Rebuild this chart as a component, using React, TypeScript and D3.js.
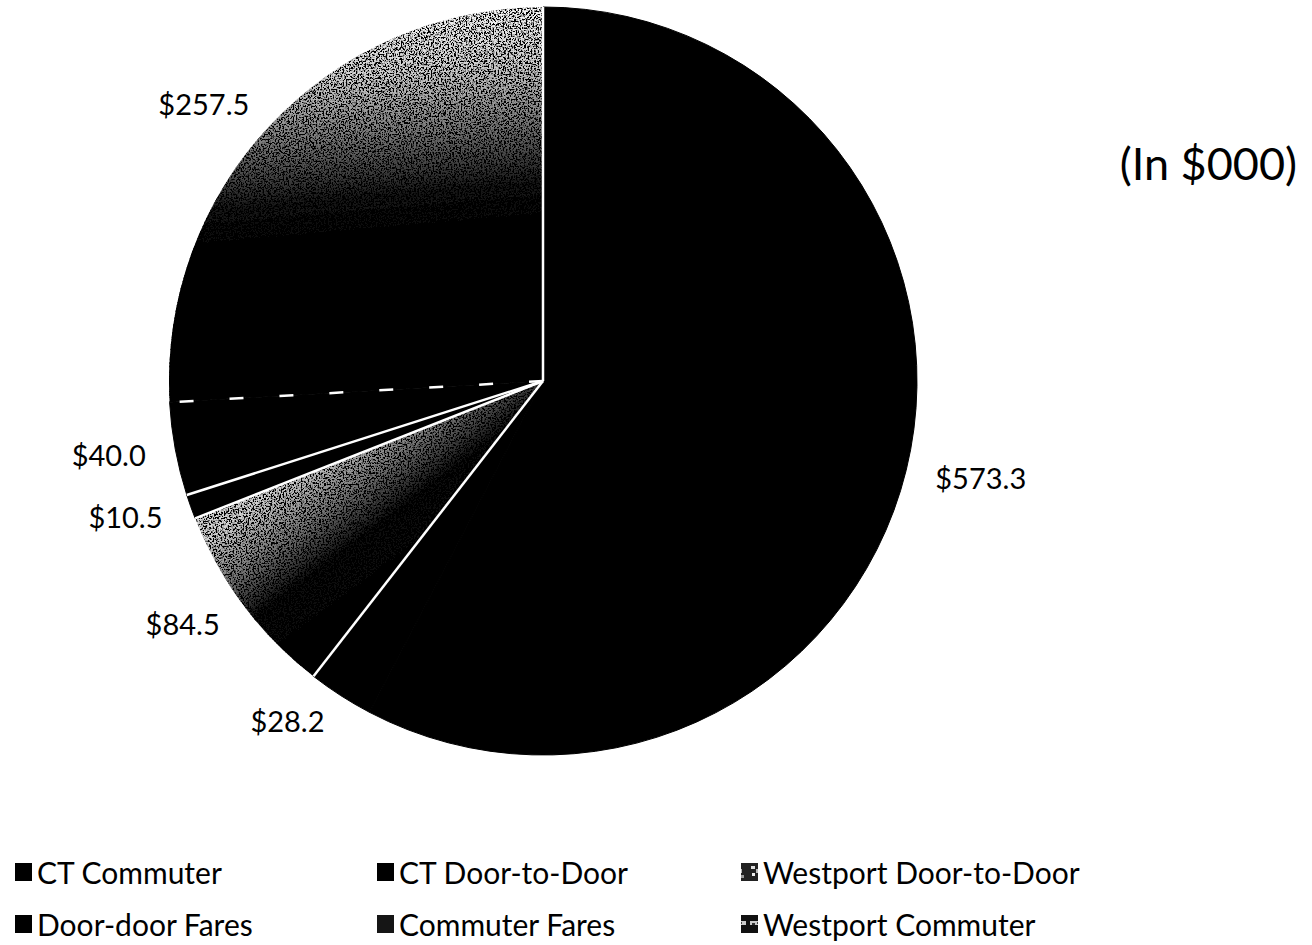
import React from "react";
import * as d3 from "d3";

const categories = [
  "CT Commuter",
  "CT Door-to-Door",
  "Westport Door-to-Door",
  "Door-door Fares",
  "Commuter Fares",
  "Westport Commuter",
];
const values = [573.3, 28.2, 84.5, 10.5, 40.0, 257.5];
const labelTexts = ["$573.3", "$28.2", "$84.5", "$10.5", "$40.0", "$257.5"];
const unitTitle = "(In $000)";
// legend grid: 3 columns x 2 rows
const legendCols = [0, 1, 2, 0, 1, 2];
const legendRows = [0, 0, 0, 1, 1, 1];

const W = 1312;
const H = 945;
const cx = 543;
const cy = 381;
const r = 374;
const FONT = "Lato, 'Open Sans', sans-serif";

export default function App() {
  const pie = d3.pie<number>().sort(null).value((d) => d);
  const arcs = pie(values);
  const arc = d3.arc<d3.PieArcDatum<number>>().innerRadius(0).outerRadius(r);
  const labelR = r + 30;

  const fills = ["#000", "#000", "url(#gradWDD)", "#000", "#000", "url(#gradWC)"];
  const filters = [null, null, "url(#speckle)", null, null, "url(#speckle)"];

  const legendX = d3.scaleOrdinal<number, number>().domain([0, 1, 2]).range([15, 377, 741]);
  const legendY = d3.scaleOrdinal<number, number>().domain([0, 1]).range([872, 924]);

  // separators after slices 1..5 (none between CT Commuter and CT Door-to-Door)
  const sepAngles = arcs.map((a) => a.endAngle).filter((_, i) => i >= 1);

  // local (centred) point
  const lp = (ang: number, rad: number) => [rad * Math.sin(ang), -rad * Math.cos(ang)];
  const pt = (ang: number, rad: number) => {
    const [x, y] = lp(ang, rad);
    return [cx + x, cy + y];
  };

  const wddA = lp(arcs[2].endAngle, r * 0.75);
  const wddB = lp(arcs[2].startAngle, r * 0.75);

  return (
    <svg
      width={W}
      height={H}
      style={{ position: "absolute", left: 0, top: 0, background: "#fff" }}
      fontFamily={FONT}
    >
      <defs>
        <linearGradient id="gradWC" gradientUnits="userSpaceOnUse" x1={-r * 0.05} y1={-r} x2={0} y2={-r * 0.42}>
          <stop offset="0" stopColor="#f5f5f5" />
          <stop offset="0.25" stopColor="#d0d0d0" />
          <stop offset="0.55" stopColor="#707070" />
          <stop offset="0.8" stopColor="#1a1a1a" />
          <stop offset="1" stopColor="#000" />
        </linearGradient>
        <linearGradient id="gradWDD" gradientUnits="userSpaceOnUse" x1={wddA[0]} y1={wddA[1]} x2={wddB[0]} y2={wddB[1]}>
          <stop offset="0" stopColor="#d0d0d0" />
          <stop offset="0.3" stopColor="#7a7a7a" />
          <stop offset="0.6" stopColor="#111" />
          <stop offset="1" stopColor="#000" />
        </linearGradient>
        <filter id="speckle" x="0" y="0" width="1" height="1">
          <feTurbulence type="fractalNoise" baseFrequency="0.6" numOctaves="2" seed="4" result="noise" />
          <feColorMatrix
            in="noise"
            type="matrix"
            values="0 0 0 0 0  0 0 0 0 0  0 0 0 0 0  7 0 0 0 -3.1"
            result="dots"
          />
          <feComposite in="dots" in2="SourceGraphic" operator="in" result="clipped" />
          <feMerge>
            <feMergeNode in="SourceGraphic" />
            <feMergeNode in="clipped" />
          </feMerge>
        </filter>
        <pattern id="swWDD" width="17" height="18" patternUnits="userSpaceOnUse">
          <rect width="17" height="18" fill="#222" />
          <rect x="3" y="2" width="4" height="3" fill="#ddd" />
          <rect x="8" y="5" width="3" height="4" fill="#bbb" />
          <rect x="4" y="9" width="3" height="3" fill="#eee" />
          <rect x="10" y="11" width="3" height="3" fill="#999" />
        </pattern>
        <pattern id="swWC" width="17" height="18" patternUnits="userSpaceOnUse">
          <rect width="17" height="18" fill="#111" />
          <rect x="2" y="3" width="13" height="4" fill="#ccc" />
          <rect x="4" y="5" width="3" height="2" fill="#333" />
          <rect x="9" y="4" width="2" height="2" fill="#444" />
        </pattern>
      </defs>

      <g transform={`translate(${cx},${cy})`}>
        {arcs.map((a, i) => (
          <path
            key={categories[i]}
            d={arc(a) || ""}
            fill={fills[i]}
            stroke={fills[i].startsWith("#") ? fills[i] : "none"}
            strokeWidth={1}
            filter={filters[i] || undefined}
          />
        ))}
      </g>

      {sepAngles.map((ang, i) => {
        const [x, y] = pt(ang, r);
        return (
          <line
            key={"sep" + i}
            x1={cx}
            y1={cy}
            x2={x}
            y2={y}
            stroke="#fff"
            strokeWidth={2.5}
            strokeDasharray={i === 3 ? "14 36" : undefined}
          />
        );
      })}

      {arcs.map((a, i) => {
        const mid = (a.startAngle + a.endAngle) / 2;
        const [x, y] = pt(mid, labelR);
        const right = Math.sin(mid) >= 0;
        return (
          <text
            key={"lab" + i}
            x={x}
            y={y}
            textAnchor={right ? "start" : "end"}
            dominantBaseline="central"
            fontSize={29}
            fill="#000"
          >
            {labelTexts[i]}
          </text>
        );
      })}

      <text x={1297} y={163} textAnchor="end" dominantBaseline="central" fontSize={45} fill="#000">
        {unitTitle}
      </text>

      {categories.map((c, i) => {
        const x = legendX(legendCols[i]);
        const y = legendY(legendRows[i]);
        const sw = i === 2 ? "url(#swWDD)" : i === 5 ? "url(#swWC)" : i === 4 ? "#151515" : "#000";
        return (
          <g key={"leg" + i}>
            <rect x={x} y={y - 9} width={17} height={18} fill={sw} />
            <text x={x + 22} y={y} dominantBaseline="central" fontSize={30} fill="#000">
              {c}
            </text>
          </g>
        );
      })}
    </svg>
  );
}
